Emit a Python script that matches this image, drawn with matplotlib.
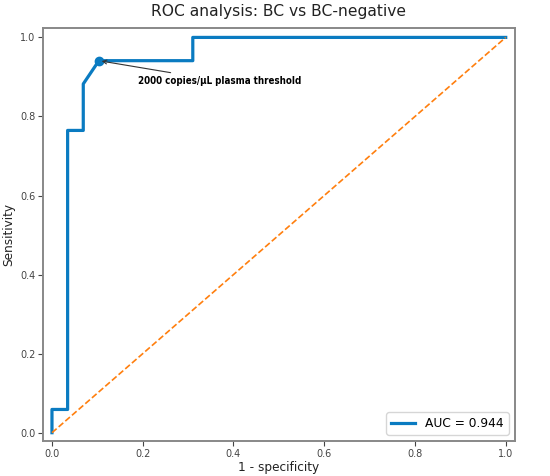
import matplotlib.pyplot as plt

# ROC points (1 - specificity, sensitivity)
fpr = [0.0, 0.0, 1/29, 1/29, 2/29, 2/29, 3/29, 9/29, 9/29, 1.0]
tpr = [0.0, 1/17, 1/17, 13/17, 13/17, 15/17, 16/17, 16/17, 1.0, 1.0]
auc_value = 0.944
thr_point = (3/29, 16/17)
chance = [0.0, 1.0]

fig = plt.figure(figsize=(5.5, 4.76), dpi=100)
ax = fig.add_axes([0.078, 0.0735, 0.858, 0.867])

ax.plot(fpr, tpr, color='#0a7bc1', lw=2.3, label=f"AUC = {auc_value:.3f}")
ax.plot(chance, chance, color='#ff7f0e', lw=1.2, ls='--')
ax.plot(*thr_point, 'o', color='#0a7bc1', ms=6)
ax.annotate("2000 copies/µL plasma threshold", xy=thr_point, xytext=(0.19, 0.89),
            fontsize=7, fontweight='bold', fontstretch='condensed', va='center',
            arrowprops=dict(arrowstyle='->', color='#333333', lw=0.8))

ax.set_xlim(-0.02, 1.02)
ax.set_ylim(-0.021, 1.023)
ax.set_xticks([0, 0.2, 0.4, 0.6, 0.8, 1.0])
ax.set_yticks([0, 0.2, 0.4, 0.6, 0.8, 1.0])
ax.tick_params(labelsize=7, colors='#444444', length=3.5, pad=2)
for s in ax.spines.values():
    s.set_color('#888888')
    s.set_linewidth(1.4)

ax.set_xlabel("1 - specificity", fontsize=8.7, color='#222222', labelpad=2)
ax.set_ylabel("Sensitivity", fontsize=8.7, color='#222222', labelpad=3)
ax.set_title("ROC analysis: BC vs BC-negative", fontsize=11.2, color='#222222', pad=9)
ax.legend(loc='lower right', fontsize=8.8)

plt.savefig("out.png", dpi=100)
